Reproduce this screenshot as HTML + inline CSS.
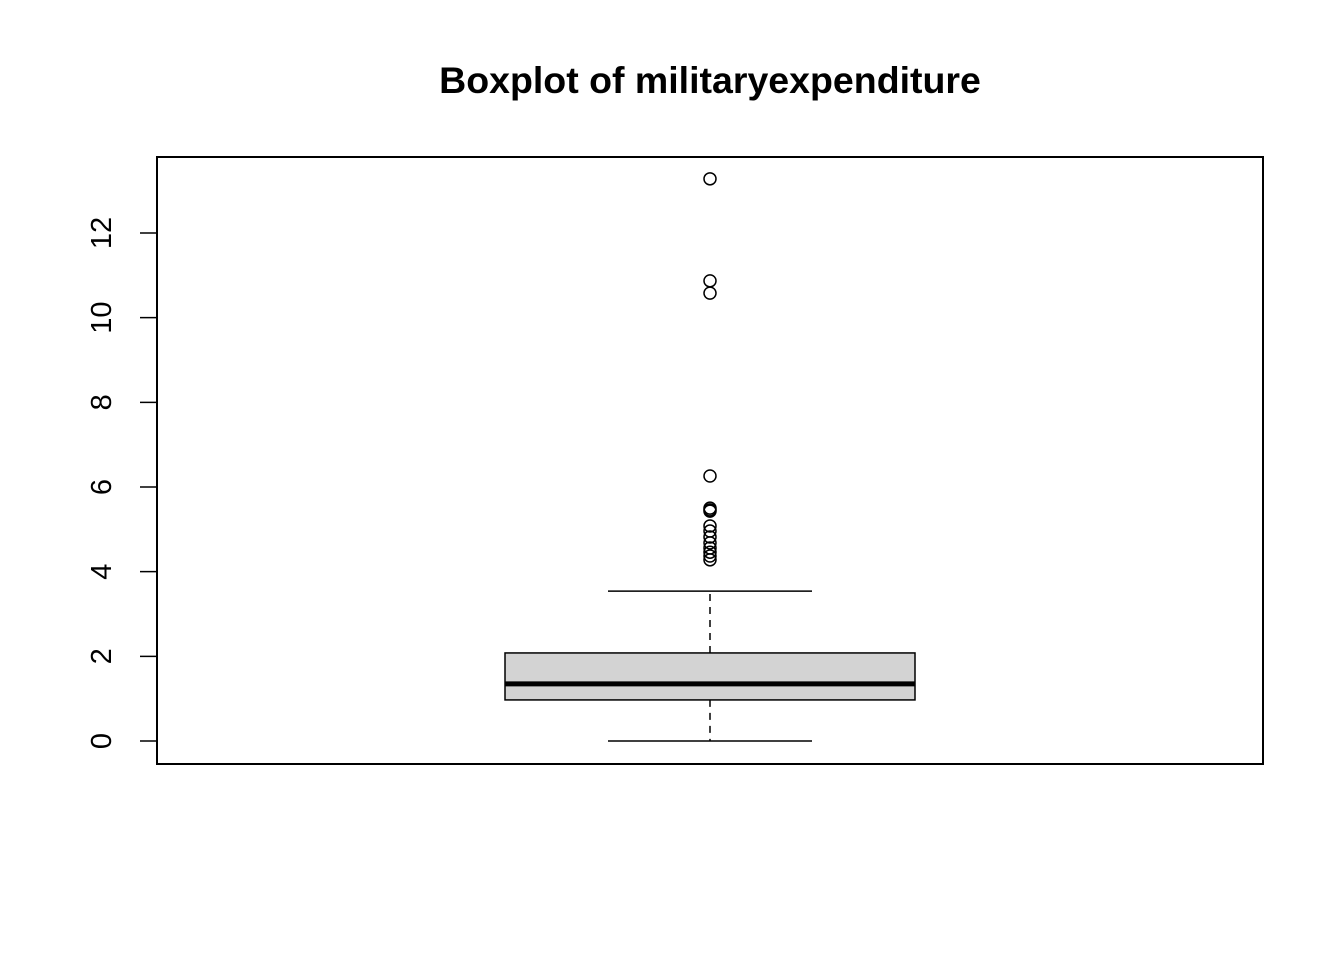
<!DOCTYPE html>
<html><head><meta charset="utf-8"><style>
body{margin:0;background:#fff}
text{font-family:"Liberation Sans",Arial,sans-serif}
</style></head><body>
<svg id="chart" width="1344" height="960" xmlns="http://www.w3.org/2000/svg">
<rect width="1344" height="960" fill="#fff"/>
<text x="710" y="93" text-anchor="middle" font-size="37.5" font-weight="bold">Boxplot of militaryexpenditure</text>
<rect x="157" y="157" width="1106" height="607" fill="none" stroke="#000" stroke-width="2"/>
<g id="axis"></g><g id="marks"></g>
</svg>
<script>
const yTicks=[0,2,4,6,8,10,12];
const stats=[0,0.97,1.35,2.08,3.54]; // min, q1, median, q3, upper whisker
const outliers=[13.28,10.87,10.58,6.26,5.50,5.46,5.43,5.08,4.96,4.82,4.68,4.56,4.46,4.37,4.28];
const NS='http://www.w3.org/2000/svg';
const y=v=>741-v*(741-233)/12;
const cx=710,bx0=505,bx1=915,cap0=608,cap1=812;
function mk(t,a,p){const e=document.createElementNS(NS,t);for(const k in a)e.setAttribute(k,a[k]);p.appendChild(e);return e;}
const ax=document.getElementById('axis'),mg=document.getElementById('marks');
yTicks.forEach(t=>{
 const l=mk('line',{x1:140,x2:157,y1:y(t),y2:y(t),stroke:'#000','stroke-width':1.5},ax);
 
 
 const tx=mk('text',{x:0,y:0,transform:`translate(111,${y(t)}) rotate(-90)`,'text-anchor':'middle','font-size':29},ax);
 tx.textContent=t;
 
 
});
const [mn,q1,md,q3,mx]=stats;
let e;
e=mk('line',{x1:cx,x2:cx,y1:y(q3),y2:y(mx),stroke:'#000','stroke-width':1.5,'stroke-dasharray':'7,6'},mg);


e=mk('line',{x1:cx,x2:cx,y1:y(q1),y2:y(mn),stroke:'#000','stroke-width':1.5,'stroke-dasharray':'7,6'},mg);


e=mk('line',{x1:cap0,x2:cap1,y1:y(mx),y2:y(mx),stroke:'#000','stroke-width':1.5},mg);


e=mk('line',{x1:cap0,x2:cap1,y1:y(mn),y2:y(mn),stroke:'#000','stroke-width':1.5},mg);


e=mk('rect',{x:bx0,y:y(q3),width:bx1-bx0,height:y(q1)-y(q3),fill:'#d3d3d3',stroke:'#000','stroke-width':1.5},mg);


e=mk('line',{x1:bx0,x2:bx1,y1:y(md),y2:y(md),stroke:'#000','stroke-width':5},mg);


outliers.forEach(v=>{
 const c=mk('circle',{cx:cx,cy:y(v),r:6,fill:'none',stroke:'#000','stroke-width':1.5},mg);
 
 
});
</script>
</body></html>
